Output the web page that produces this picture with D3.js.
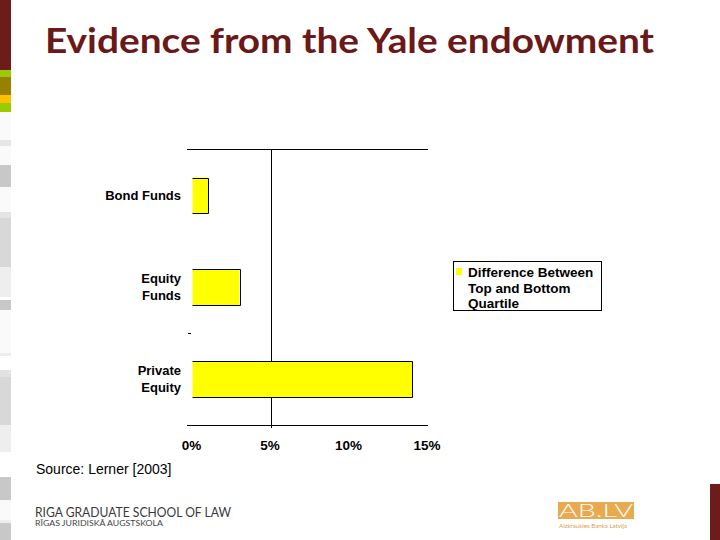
<!DOCTYPE html>
<html>
<head>
<meta charset="utf-8">
<script src="https://cdn.jsdelivr.net/npm/d3@7"></script>
<style>
  html, body { margin: 0; padding: 0; background: #fff; }
  svg { display: block; }
</style>
</head>
<body>
<script>
// ---- Data ----
const categories = ["Bond Funds", "Equity Funds", "Private Equity"];
const labelLines = [["Bond Funds"], ["Equity", "Funds"], ["Private", "Equity"]];
const values = [1.0, 3.0, 14.0]; // percent
const seriesName = ["Difference Between", "Top and Bottom", "Quartile"];
const xTicks = [0, 5, 10, 15];
const titleText = "Evidence from the Yale endowment";
const sourceText = "Source: Lerner [2003]";

const W = 720, H = 540;
const svg = d3.select("body").append("svg").attr("width", W).attr("height", H);

// ---- Decoration: left stripe ----
const stripe = [
  [0, 70, "#6e1b1b"], [70, 77, "#99cc00"], [77, 95, "#9a8000"], [95, 103, "#ffc000"],
  [103, 112, "#99cc00"], [112, 140, "#fafafa"], [140, 146, "#e6e6e6"], [146, 165, "#fafafa"],
  [165, 187, "#c8c8c8"], [187, 212, "#fafafa"], [212, 218, "#e4e4e4"], [218, 267, "#d8d8d8"],
  [267, 297, "#eeeeee"], [300, 310, "#c8c8c8"], [310, 353, "#fafafa"], [353, 356, "#eeeeee"],
  [370, 377, "#e2e2e2"], [377, 425, "#d8d8d8"], [425, 452, "#eeeeee"], [477, 500, "#c8c8c8"],
  [500, 520, "#fafafa"], [520, 523, "#eeeeee"], [523, 540, "#c8c8c8"]
];
svg.selectAll("rect.stripe").data(stripe).enter().append("rect")
  .attr("class", "stripe").attr("x", 0).attr("width", 11)
  .attr("y", d => d[0]).attr("height", d => d[1] - d[0]).attr("fill", d => d[2]);

svg.append("rect").attr("x", 710).attr("y", 484).attr("width", 10).attr("height", 56).attr("fill", "#6e1b1b");

// ---- Title ----
svg.append("text").attr("x", 45).attr("y", 53)
  .attr("font-family", "Lato, 'Open Sans', sans-serif").attr("font-weight", "bold")
  .attr("font-size", 35).attr("fill", "#6a1818")
  .attr("textLength", 609).attr("lengthAdjust", "spacingAndGlyphs")
  .text(titleText);

// ---- Scales ----
const x = d3.scaleLinear().domain([0, 15]).range([192.5, 428]);
const y = d3.scaleBand().domain(categories).range([149.5, 425]).paddingInner(0.61).paddingOuter(0.305);

const font = "'Liberation Sans', Arial, sans-serif";

// frame lines
svg.append("line").attr("x1", 187).attr("x2", 428).attr("y1", 149.5).attr("y2", 149.5).attr("stroke", "#000");
svg.append("line").attr("x1", 187).attr("x2", 428).attr("y1", 425.5).attr("y2", 425.5).attr("stroke", "#000");
svg.append("line").attr("x1", Math.round(x(5)) + 0.5).attr("x2", Math.round(x(5)) + 0.5)
  .attr("y1", 149.5).attr("y2", 428).attr("stroke", "#000");
// category boundary tick
const bY = y(categories[2]) - (y.step() - y.bandwidth()) / 2;
svg.append("line").attr("x1", 188).attr("x2", 191).attr("y1", Math.round(bY) + 0.5)
  .attr("y2", Math.round(bY) + 0.5).attr("stroke", "#000");

// ---- Bars ----
const bars = svg.selectAll("g.bar").data(categories).enter().append("g").attr("class", "bar");
bars.append("rect")
  .attr("x", x(0)).attr("y", d => y(d))
  .attr("width", (d, i) => x(values[i]) - x(0)).attr("height", y.bandwidth())
  .attr("fill", "#ffff00");
bars.append("path")
  .attr("d", (d, i) => {
    const x0 = x(0), x1 = Math.round(x(values[i])) + 0.5, y0 = Math.round(y(d)) + 0.5, y1 = Math.round(y(d) + y.bandwidth()) + 0.5;
    return `M${x0},${y0}H${x1}V${y1}H${x0}`;
  })
  .attr("fill", "none").attr("stroke", "#000").attr("stroke-width", 1);

// ---- Category labels ----
categories.forEach((c, i) => {
  const lines = labelLines[i];
  const cy = y(c) + y.bandwidth() / 2;
  const t = svg.append("text").attr("text-anchor", "end")
    .attr("font-family", font).attr("font-weight", "bold").attr("font-size", 13).attr("fill", "#000");
  lines.forEach((ln, j) => {
    t.append("tspan").attr("x", 181).attr("y", cy + 4.6 - (lines.length - 1) * 8.5 + j * 17).text(ln);
  });
});

// ---- X tick labels ----
svg.selectAll("text.xt").data(xTicks).enter().append("text").attr("class", "xt")
  .attr("x", d => x(d) - 1).attr("y", 450).attr("text-anchor", "middle")
  .attr("font-family", font).attr("font-weight", "bold").attr("font-size", 13.5)
  .text(d => d + "%");

// ---- Legend ----
svg.append("rect").attr("x", 453.5).attr("y", 261.5).attr("width", 148).attr("height", 49)
  .attr("fill", "#fff").attr("stroke", "#000");
svg.append("rect").attr("x", 456).attr("y", 268).attr("width", 6).attr("height", 7).attr("fill", "#ffff00");
const lt = svg.append("text").attr("font-family", font).attr("font-weight", "bold").attr("font-size", 13.5);
seriesName.forEach((s, j) => lt.append("tspan").attr("x", 468).attr("y", 276.8 + j * 15.7).text(s));

// ---- Source ----
svg.append("text").attr("x", 36).attr("y", 474).attr("font-family", font).attr("font-size", 14)
  .attr("fill", "#000").text(sourceText);

// ---- Footer ----
svg.append("text").attr("x", 35).attr("y", 516.5).attr("font-family", "Lato, sans-serif")
  .attr("font-size", 12.5).attr("fill", "#3a3a3a").attr("textLength", 196).attr("lengthAdjust", "spacingAndGlyphs")
  .text("RIGA GRADUATE SCHOOL OF LAW");
svg.append("text").attr("x", 35).attr("y", 526).attr("font-family", "Lato, sans-serif")
  .attr("font-size", 7.5).attr("fill", "#444").attr("textLength", 128).attr("lengthAdjust", "spacingAndGlyphs")
  .text("RĪGAS JURIDISKĀ AUGSTSKOLA");

// ABLV logo
svg.append("rect").attr("x", 558).attr("y", 502).attr("width", 76).attr("height", 17).attr("fill", "#e9a94f");
svg.append("text").attr("x", 559).attr("y", 517).attr("font-family", "Lato, sans-serif").attr("font-weight", 300)
  .attr("font-size", 18).attr("fill", "#fff").attr("textLength", 74).attr("lengthAdjust", "spacingAndGlyphs")
  .text("AB.LV");
svg.append("text").attr("x", 559).attr("y", 527.5).attr("font-family", "Lato, sans-serif")
  .attr("font-size", 5.5).attr("fill", "#d9a050").attr("textLength", 68).attr("lengthAdjust", "spacingAndGlyphs")
  .text("Aizkraukles Banka Latvija");
</script>
</body>
</html>
